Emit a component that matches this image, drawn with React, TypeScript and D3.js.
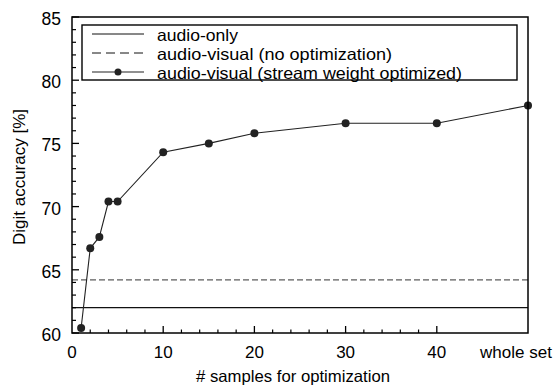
import React from 'react'
import * as d3 from 'd3'

// values
const samples = [1, 2, 3, 4, 5, 10, 15, 20, 30, 40, 50]
const avOptimized = [60.4, 66.7, 67.6, 70.4, 70.4, 74.3, 75.0, 75.8, 76.6, 76.6, 78.0]
const audioOnly = 62.0
const avNoOpt = 64.2
const xTickValues = [0, 10, 20, 30, 40, 50]
const xTickLabels = ['0', '10', '20', '30', '40', 'whole set']
const xMinorTicks = [2, 4, 6, 8, 12, 14, 16, 18, 22, 24, 26, 28, 32, 34, 36, 38]
const yTickValues = [60, 65, 70, 75, 80, 85]
const legendLabels = [
  'audio-only',
  'audio-visual (no optimization)',
  'audio-visual (stream weight optimized)'
]

const width = 557
const height = 385
const margin = { left: 72, right: 29, top: 17, bottom: 52 }
const font = 'Liberation Sans, Arial, Helvetica, sans-serif'

export default function App() {
  const x = d3.scaleLinear().domain([0, 50]).range([margin.left, width - margin.right])
  const y = d3.scaleLinear().domain([60, 85]).range([height - margin.bottom, margin.top])

  const line = d3
    .line<number>()
    .x((d, i) => x(samples[i]))
    .y(d => y(d))

  const yMinor = d3.range(60, 85).filter(v => v % 5 !== 0)
  const x0 = x(0)
  const x1 = x(50)
  const y0 = y(60)
  const y1 = y(85)

  // legend box and rows (sample line y, text baseline, text width)
  const lg = { x: 82, y: 25, w: 435, h: 55 }
  const rowY = [34, 53, 72]
  const rowBase = [41, 60, 78.5]
  const rowLen = [81, 235, 305]

  return (
    <svg
      width={width}
      height={height}
      style={{ position: 'absolute', left: 0, top: 0, background: '#fff' }}
      fontFamily={font}
    >
      {/* reference lines */}
      <line x1={x0} x2={x1} y1={y(audioOnly)} y2={y(audioOnly)} stroke="#111" strokeWidth={1.2} />
      <line
        x1={x0}
        x2={x1}
        y1={y(avNoOpt)}
        y2={y(avNoOpt)}
        stroke="#333"
        strokeWidth={1}
        strokeDasharray="6,3"
      />

      {/* optimized series */}
      <path d={line(avOptimized) || ''} fill="none" stroke="#222" strokeWidth={1.1} />
      {avOptimized.map((v, i) => (
        <circle key={i} cx={x(samples[i])} cy={y(v)} r={4} fill="#222" />
      ))}

      {/* y ticks, inward */}
      {yTickValues.map(v => (
        <g key={v}>
          <line x1={x0} x2={x0 + 7} y1={y(v)} y2={y(v)} stroke="#000" strokeWidth={1.3} />
          <text x={61} y={y(v) + 8} textAnchor="end" fontSize={17.5}>
            {v}
          </text>
        </g>
      ))}
      {yMinor.map(v => (
        <line key={v} x1={x0} x2={x0 + 4} y1={y(v)} y2={y(v)} stroke="#000" strokeWidth={1.2} />
      ))}

      {/* x ticks, inward */}
      {xTickValues.map((v, i) => (
        <g key={v}>
          {v > 0 && v < 50 && (
            <line x1={x(v)} x2={x(v)} y1={y0} y2={y0 - 7} stroke="#000" strokeWidth={1.3} />
          )}
          <text
            x={v === 50 ? x(v) - 12 : x(v)}
            y={358}
            textAnchor="middle"
            fontSize={17}
          >
            {xTickLabels[i]}
          </text>
        </g>
      ))}
      {xMinorTicks.map(v => (
        <line key={v} x1={x(v)} x2={x(v)} y1={y0} y2={y0 - 3.5} stroke="#000" strokeWidth={1.2} />
      ))}

      {/* frame */}
      <rect
        x={x0}
        y={y1}
        width={x1 - x0}
        height={y0 - y1}
        fill="none"
        stroke="#000"
        strokeWidth={1.5}
      />

      {/* legend */}
      <rect x={lg.x} y={lg.y} width={lg.w} height={lg.h} fill="#fff" stroke="#000" strokeWidth={1.4} />
      <line x1={92} x2={144} y1={rowY[0]} y2={rowY[0]} stroke="#111" strokeWidth={1} />
      <line
        x1={92}
        x2={144}
        y1={rowY[1]}
        y2={rowY[1]}
        stroke="#111"
        strokeWidth={1}
        strokeDasharray="9,5"
      />
      <line x1={92} x2={144} y1={rowY[2]} y2={rowY[2]} stroke="#222" strokeWidth={1.1} />
      <circle cx={118} cy={rowY[2]} r={3.5} fill="#222" />
      {legendLabels.map((t, i) => (
        <text
          key={t}
          x={157}
          y={rowBase[i]}
          fontSize={16.5}
          textLength={rowLen[i]}
          lengthAdjust="spacingAndGlyphs"
        >
          {t}
        </text>
      ))}

      {/* axis titles */}
      <text
        x={196}
        y={382}
        fontSize={16.5}
        textLength={194}
        lengthAdjust="spacingAndGlyphs"
      >
        # samples for optimization
      </text>
      <text
        transform={`translate(25,177) rotate(-90)`}
        textAnchor="middle"
        fontSize={17}
      >
        Digit accuracy [%]
      </text>
    </svg>
  )
}
